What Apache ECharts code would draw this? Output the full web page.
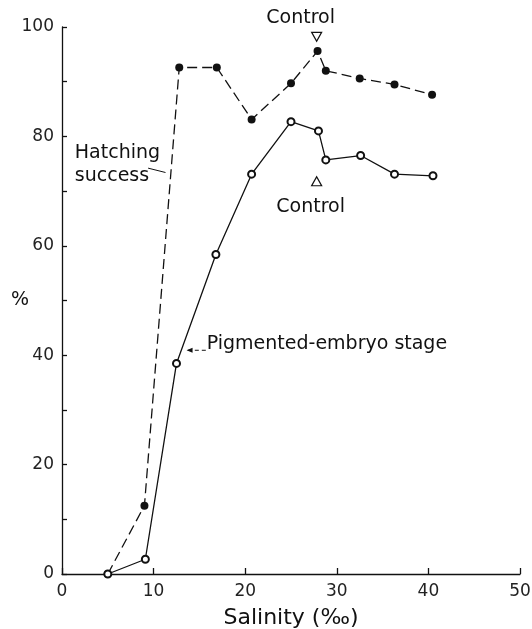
<!DOCTYPE html>
<html lang="en">
<head>
    <meta charset="UTF-8">
    <title>Hatching success vs salinity</title>
    <style>
        html, body { margin: 0; padding: 0; background: #fff; }
        #chart { width: 532px; height: 629px; }
    </style>
    <script src="https://cdn.jsdelivr.net/npm/echarts@6/dist/echarts.min.js"></script>
</head>
<body>
    <div id="chart"></div>
    <script>
        // salinity (‰) and percentages
        const hatchX = [5, 9, 12.8, 16.9, 20.7, 25, 27.9, 28.8, 32.5, 36.3, 40.4];
        const hatchY = [0, 12.5, 92.6, 92.6, 83.1, 89.7, 95.6, 92.0, 90.6, 89.5, 87.6];
        const pigX = [5, 9.1, 12.5, 16.8, 20.7, 25, 28, 28.8, 32.6, 36.3, 40.5];
        const pigY = [0, 2.7, 38.5, 58.4, 73.1, 82.7, 81.0, 75.7, 76.5, 73.1, 72.8];
        const yLabelStep = 20;
        const controlX = 27.8;

        const ink = '#111';
        const font = 'DejaVu Sans';

        const chart = echarts.init(document.getElementById('chart'));

        chart.setOption({
            animation: false,
            grid: { left: 62, right: 12, top: 27, bottom: 55, outerBoundsMode: 'none' },
            xAxis: {
                type: 'value', min: 0, max: 50, interval: 10,
                name: 'Salinity (‰)', nameLocation: 'middle', nameGap: 33,
                nameTextStyle: { fontSize: 22, color: ink, fontFamily: font },
                axisLine: { lineStyle: { color: ink, width: 1.3 } },
                axisTick: { inside: true, length: 6, lineStyle: { color: ink, width: 1.3 } },
                axisLabel: { fontSize: 17, color: '#222', margin: 9, fontFamily: font },
                splitLine: { show: false }
            },
            yAxis: {
                type: 'value', min: 0, max: 100, interval: 10,
                name: '%', nameLocation: 'middle', nameRotate: 0, nameGap: 33,
                nameMoveOverlap: false,
                nameTextStyle: { fontSize: 19, color: ink, fontFamily: font, padding: [10, 0, 0, 0] },
                axisLine: { lineStyle: { color: ink, width: 1.3 } },
                axisTick: { inside: true, length: 5, lineStyle: { color: ink, width: 1.3 } },
                axisLabel: {
                    fontSize: 17, color: '#222', margin: 8, fontFamily: font,
                    formatter: v => (v % yLabelStep === 0 ? v : '')
                },
                splitLine: { show: false }
            },
            series: [
                {
                    name: 'Hatching success',
                    type: 'line',
                    data: hatchX.map((x, i) => [x, hatchY[i]]),
                    symbol: 'circle', symbolSize: 8,
                    itemStyle: { color: ink },
                    lineStyle: { color: ink, width: 1.3, type: [10, 5] },
                    markPoint: {
                        symbol: 'triangle', symbolSize: [10, 9], symbolRotate: 180,
                        itemStyle: { color: '#fff', borderColor: ink, borderWidth: 1.2 },
                        label: {
                            show: true, position: 'top', distance: 4, offset: [-16, 0],
                            formatter: 'Control', fontSize: 19, color: ink, fontFamily: font
                        },
                        data: [{ coord: [controlX, 98.2] }]
                    }
                },
                {
                    name: 'Pigmented-embryo stage',
                    type: 'line',
                    data: pigX.map((x, i) => [x, pigY[i]]),
                    symbol: 'emptyCircle', symbolSize: 7,
                    itemStyle: { color: ink, borderWidth: 1.3 },
                    lineStyle: { color: ink, width: 1.3 },
                    markPoint: {
                        symbol: 'triangle', symbolSize: [10, 9],
                        itemStyle: { color: '#fff', borderColor: ink, borderWidth: 1.2 },
                        label: {
                            show: true, position: 'bottom', distance: 11, offset: [-6, 0],
                            formatter: 'Control', fontSize: 19, color: ink, fontFamily: font
                        },
                        data: [{ coord: [controlX, 71.8] }]
                    }
                }
            ]
        });

        // annotation texts and leaders, placed in data space
        const p = (x, y) => chart.convertToPixel({ gridIndex: 0 }, [x, y]);
        const hatchLabel = p(1.4, 74.8);
        const hatchLeadA = p(9.4, 74.2);
        const hatchLeadB = p(11.3, 73.4);
        const pigLabel = p(15.8, 42.1);
        const pigLeadA = p(15.7, 40.9);
        const pigLeadB = p(13.6, 40.9);

        chart.setOption({
            graphic: [
                {
                    type: 'text', x: hatchLabel[0], y: hatchLabel[1],
                    style: {
                        text: 'Hatching\nsuccess', fill: ink, font: '19px ' + font,
                        lineHeight: 23, textVerticalAlign: 'middle'
                    }
                },
                {
                    type: 'line',
                    shape: { x1: hatchLeadA[0], y1: hatchLeadA[1], x2: hatchLeadB[0], y2: hatchLeadB[1] },
                    style: { stroke: ink, lineWidth: 1 }
                },
                {
                    type: 'text', x: pigLabel[0], y: pigLabel[1],
                    style: {
                        text: 'Pigmented-embryo stage', fill: ink, font: '19px ' + font,
                        textVerticalAlign: 'middle'
                    }
                },
                {
                    type: 'line',
                    shape: { x1: pigLeadA[0], y1: pigLeadA[1], x2: pigLeadB[0], y2: pigLeadB[1] },
                    style: { stroke: ink, lineWidth: 1, lineDash: [4, 3] }
                },
                {
                    type: 'polygon',
                    shape: { points: [[pigLeadB[0], pigLeadB[1]], [pigLeadB[0] + 6, pigLeadB[1] - 2.5], [pigLeadB[0] + 6, pigLeadB[1] + 2.5]] },
                    style: { fill: ink }
                }
            ]
        });
    </script>
</body>
</html>
